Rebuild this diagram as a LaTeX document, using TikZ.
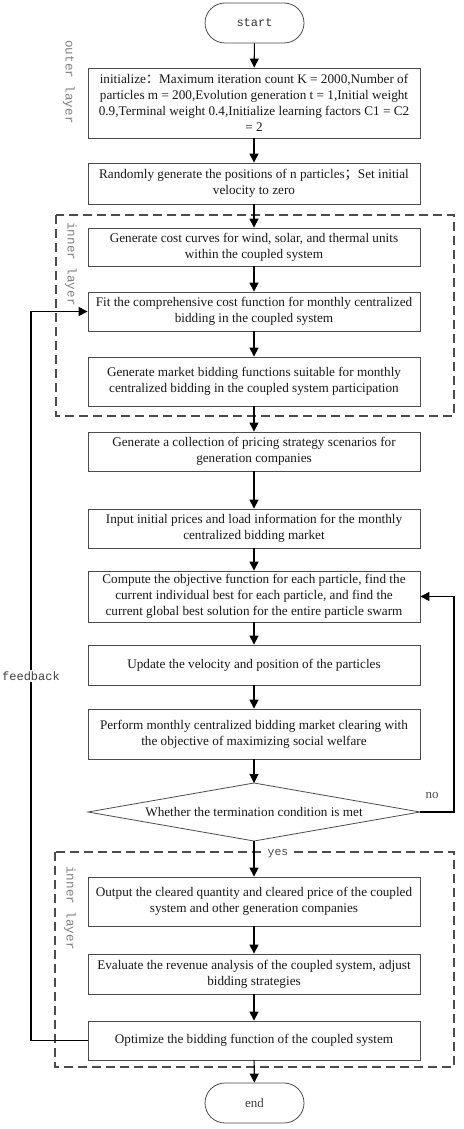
\documentclass[tikz,border=0pt]{standalone}
\usepackage{fontspec}
\setmainfont{Liberation Serif}
\setmonofont{Liberation Mono}
\newfontfamily\cjk{Noto Sans CJK SC}
\usetikzlibrary{arrows.meta,calc}
\begin{document}
\begin{tikzpicture}[x=1pt,y=-1pt,
  box/.style={draw=black!70,line width=0.8pt,fill=white,minimum width=332pt,align=center,inner sep=0pt,
    font=\fontsize{13.2}{15.8}\selectfont,text=black!90},
  term/.style={draw=black!70,line width=0.8pt,rounded corners=20pt,minimum width=99pt,minimum height=40pt,inner sep=0pt},
  arr/.style={line width=1.1pt,-{Triangle[length=9pt,width=9pt]}},
  layer/.style={draw=black!70,line width=1.1pt,dash pattern=on 9pt off 5pt},
  lbl/.style={font=\ttfamily\fontsize{12.6}{14}\selectfont,text=black!50,rotate=-90,inner sep=0pt}
]
\useasboundingbox (0,0) rectangle (463,1129);
% layer frames
\draw[layer] (56,215) rectangle (454,416);
\draw[layer] (55,852) rectangle (454,1067);
\node[lbl] (outerlbl) at (69,82) {outer layer};
\node[lbl] (inner1) at (71,264) {inner layer};
\node[lbl] (inner2) at (70,908) {inner layer};

\node[term,font=\ttfamily\fontsize{12}{14}\selectfont,text=black!80] (start) at (254.5,23) {start};
\node[box,minimum height=70pt] (init) at (254,103) {initialize{\cjk ：}Maximum iteration count K = 2000,Number of\\particles m = 200,Evolution generation t = 1,Initial weight\\0.9,Terminal weight 0.4,Initialize learning factors C1 = C2\\= 2};
\node[box,minimum height=41pt] (rand) at (254,183.5) {Randomly generate the positions of n particles{\cjk ；}Set initial\\velocity to zero};
\node[box,minimum height=38pt] (gencost) at (254,247) {Generate cost curves for wind, solar, and thermal units\\within the coupled system};
\node[box,minimum height=39pt] (fit) at (254,311.5) {Fit the comprehensive cost function for monthly centralized\\bidding in the coupled system};
\node[box,minimum height=49pt] (genmkt) at (254,381.5) {Generate market bidding functions suitable for monthly\\centralized bidding in the coupled system participation};
\node[box,minimum height=39pt] (gencol) at (254,451.5) {Generate a collection of pricing strategy scenarios for\\generation companies};
\node[box,minimum height=39pt] (input) at (254,528.5) {Input initial prices and load information for the monthly\\centralized bidding market};
\node[box,minimum height=51pt] (compute) at (254,596.5) {Compute the objective function for each particle, find the\\current individual best for each particle, and find the\\current global best solution for the entire particle swarm};
\node[box,minimum height=40pt] (update) at (254,665) {Update the velocity and position of the particles};
\node[box,minimum height=50pt] (perform) at (254,734) {Perform monthly centralized bidding market clearing with\\the objective of maximizing social welfare};
% decision
\node[font=\fontsize{13.2}{15.8}\selectfont,text=black!90,inner sep=0pt] (dec) at (254,812) {Whether the termination condition is met};
\coordinate (decT) at (254,783);
\coordinate (decB) at (254,841);
\coordinate (decL) at (88,812);
\coordinate (decR) at (420,812);
\draw[draw=black!70,line width=0.8pt] (decT) -- (decR) -- (decB) -- (decL) -- cycle;
\node[box,minimum height=49pt] (output) at (254,901.5) {Output the cleared quantity and cleared price of the coupled\\system and other generation companies};
\node[box,minimum height=40pt] (eval) at (254,974) {Evaluate the revenue analysis of the coupled system, adjust\\bidding strategies};
\node[box,minimum height=39pt] (opt) at (254,1040.5) {Optimize the bidding function of the coupled system};
\node[term,font=\fontsize{13}{15}\selectfont,text=black!75] (end) at (254.5,1103) {end};

% arrows
\draw[arr] (start) -- (init);
\draw[arr] (init) -- (rand);
\draw[arr] (rand) -- (gencost);
\draw[arr] (gencost) -- (fit);
\draw[arr] (fit) -- (genmkt);
\draw[arr] (genmkt) -- (gencol);
\draw[arr] (gencol) -- (input);
\draw[arr] (input) -- (compute);
\draw[arr] (compute) -- (update);
\draw[arr] (update) -- (perform);
\draw[arr] (perform) -- (decT);
\draw[arr] (decB) -- (output);
\draw[arr] (output) -- (eval);
\draw[arr] (eval) -- (opt);
\draw[arr] (opt) -- (end);
% no loop
\coordinate (noc) at (454,812);
\draw[arr] (decR) -- (noc) |- (compute.east);
\node[font=\fontsize{13}{15}\selectfont,text=black!70] (nolbl) at (432,795) {no};
\node[font=\ttfamily\fontsize{11.5}{14}\selectfont,text=black!70,fill=white,inner sep=2pt] (yeslbl) at (278,854) {yes};
% feedback
\coordinate (fbB) at (31,1040.5);
\draw[arr] (opt.west) -- (fbB) |- (fit.west);
\node[font=\ttfamily\fontsize{12}{14}\selectfont,text=black!75,fill=white,inner sep=2pt] (fblbl) at (31,676) {feedback};
\end{tikzpicture}
\end{document}
